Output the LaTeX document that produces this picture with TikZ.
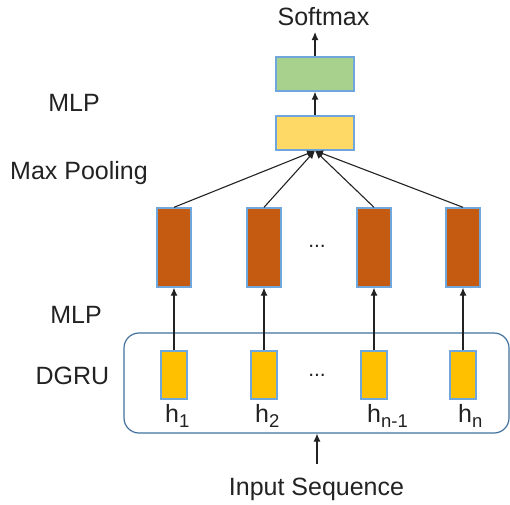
\documentclass[tikz,border=0pt]{standalone}
\usepackage{fontspec}
\setmainfont{Liberation Sans}
\usetikzlibrary{arrows.meta}
\definecolor{boxedge}{HTML}{6FA6DC}
\definecolor{greenbox}{HTML}{A9D18E}
\definecolor{yellowbox}{HTML}{FFD966}
\definecolor{orangebox}{HTML}{C55A11}
\definecolor{hbox}{HTML}{FFC000}
\definecolor{frameblue}{HTML}{41719C}
\definecolor{linegray}{HTML}{222222}
\newcommand\hsub[1]{\raisebox{-5.5pt}{\fontsize{18.5}{20}\selectfont #1}}
\begin{document}
\begin{tikzpicture}[x=1pt,y=-1pt,
  every node/.style={font=\fontsize{25}{30}\selectfont, text=linegray},
  lbl/.style={anchor=base, inner sep=0pt},
  cell/.style={draw=boxedge, line width=1.4pt, inner sep=0pt},
  wide/.style={cell, minimum width=78pt, minimum height=34pt},
  tall/.style={cell, fill=orangebox, minimum width=34pt, minimum height=79pt},
  small/.style={cell, fill=hbox, minimum width=26pt, minimum height=48pt},
  conn/.style={draw=linegray, line width=1.1pt, -{Latex[length=8pt,width=7pt]}},
  dots/.style={font=\fontsize{21}{24}\selectfont, inner sep=0pt}
]
\useasboundingbox (0,0) rectangle (510,504);

% frame
\node[draw=frameblue, line width=1.2pt, rounded corners=15pt, minimum width=385pt, minimum height=100pt, inner sep=0pt] (frame) at (316.5,383) {};

% top boxes
\node[wide, fill=greenbox] (soft) at (315,74) {};
\node[wide, fill=yellowbox] (pool) at (315,133) {};

% orange boxes
\node[tall] (o1) at (174,247.5) {};
\node[tall] (o2) at (264,247.5) {};
\node[tall] (o3) at (374,247.5) {};
\node[tall] (o4) at (463,247.5) {};

% small boxes
\node[small] (s1) at (174,375) {};
\node[small] (s2) at (264,375) {};
\node[small] (s3) at (374,375) {};
\node[small] (s4) at (463,375) {};

% dots
\node[dots] (d1) at (317,246) {...};
\node[dots] (d2) at (317,375) {...};

% h labels
\node[anchor=base west, inner sep=0pt] (h1) at (165,422) {h\hsub{1}};
\node[anchor=base west, inner sep=0pt] (h2) at (255,422) {h\hsub{2}};
\node[anchor=base west, inner sep=0pt] (h3) at (367,422) {h\hsub{n-1}};
\node[anchor=base west, inner sep=0pt] (h4) at (458,422) {h\hsub{n}};

% texts
\node[lbl] (tsoft) at (323.5,25) {Softmax};
\node[lbl] (tinput) at (316.5,495) {Input Sequence};
\node[lbl] (tmlp1) at (74,111) {MLP};
\node[lbl] (tmax) at (79,179) {Max Pooling};
\node[lbl] (tmlp2) at (76,323) {MLP};
\node[lbl] (tdgru) at (72.5,384) {DGRU};

\coordinate (softtop) at (315,32);
\coordinate (inbot) at (317,464);

% connectors
\draw[conn] (soft.north) -- (softtop);
\draw[conn] (pool.north) -- (soft.south);
\foreach \i in {1,2,3,4}{
  \draw[conn] (o\i.north) -- (pool.south);
  \draw[conn] (s\i.north) -- (o\i.south);
}
\draw[conn] (inbot) -- (inbot |- frame.south);
\end{tikzpicture}
\end{document}
